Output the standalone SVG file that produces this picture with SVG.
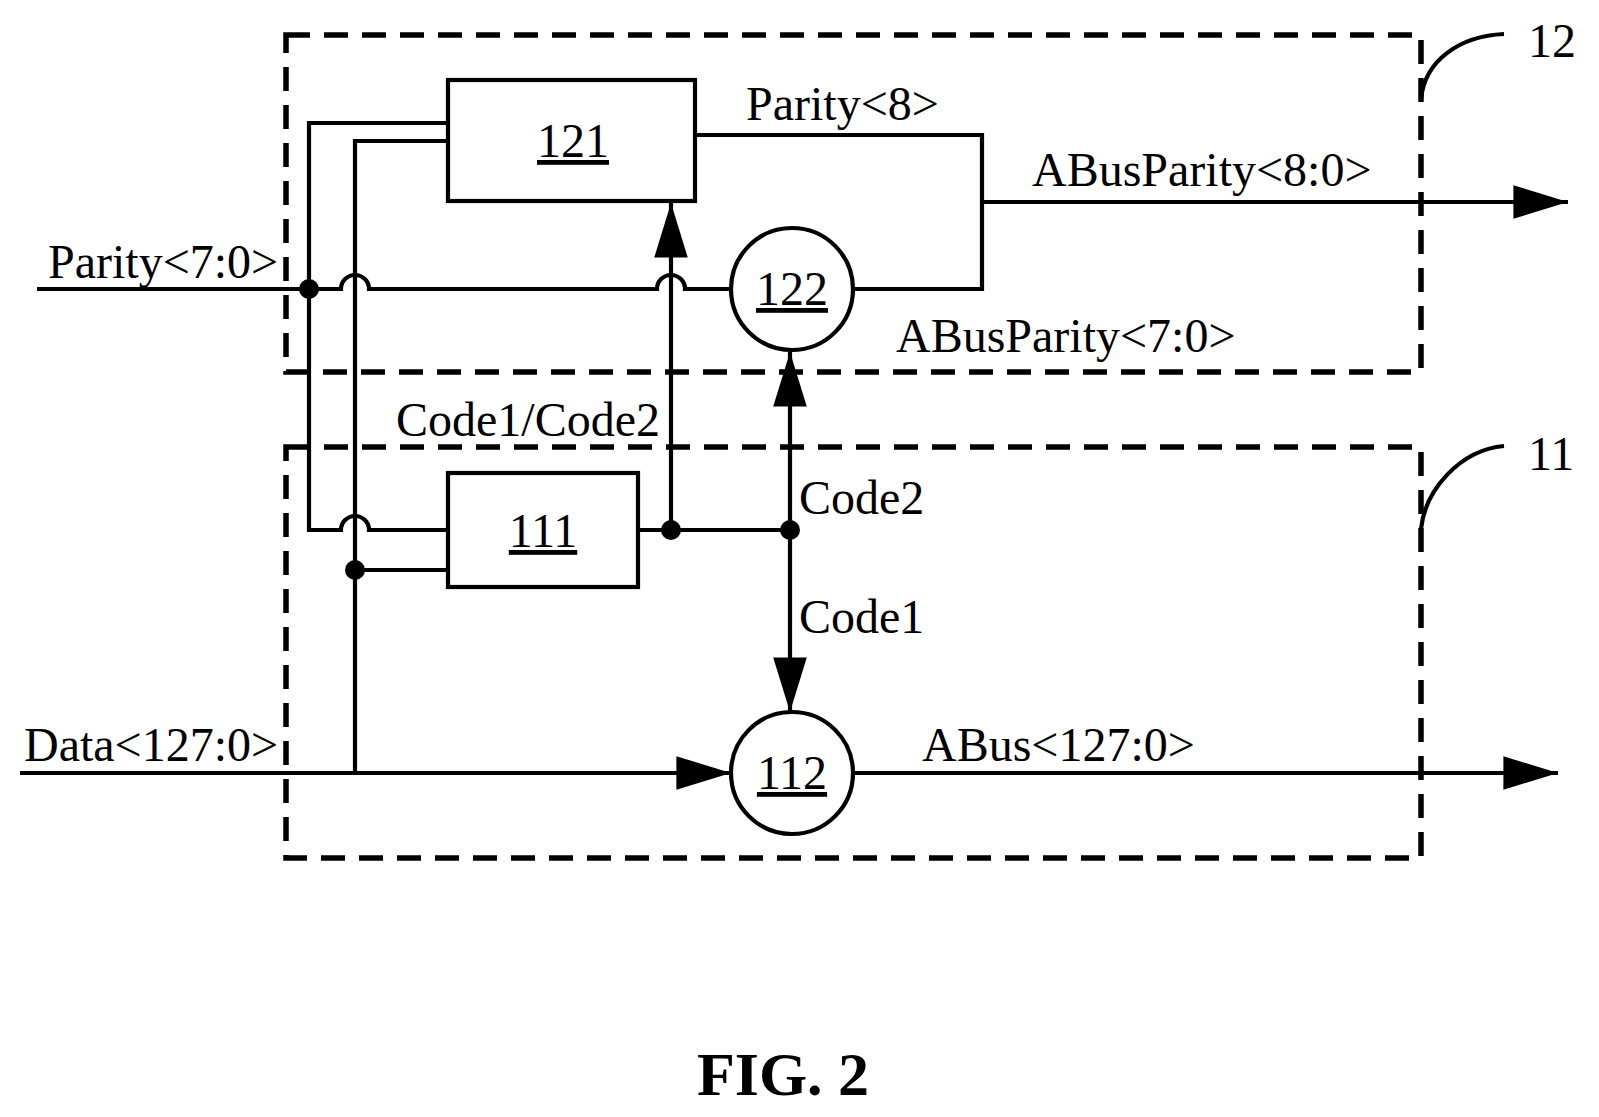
<svg xmlns="http://www.w3.org/2000/svg" width="1599" height="1117" viewBox="0 0 1599 1117">
<style>
text{font-family:"Liberation Serif","Times New Roman",serif;font-size:48px;fill:#000}
.n{text-decoration:underline}
.w{fill:none;stroke:#000;stroke-width:4.2}
.d{fill:none;stroke:#000;stroke-width:5.5;stroke-dasharray:24 14}
</style>
<defs><marker id="a" markerWidth="13" markerHeight="8" refX="13" refY="4" orient="auto" markerUnits="strokeWidth"><path d="M0,0L13,4L0,8z" fill="#000"/></marker></defs>
<rect width="1599" height="1117" fill="#fff"/>
<g id="box12"><rect class="d" x="286" y="35" width="1135" height="337"/><path class="w" d="M1421,99C1425,60 1460,36 1504,34"/><text x="1528" y="57">12</text></g>
<g id="box11"><rect class="d" x="286" y="447" width="1135" height="411"/><path class="w" d="M1421,529C1425,490 1460,450 1504,446"/><text x="1528" y="470">11</text></g>
<g id="n121"><rect class="w" x="448" y="80" width="247" height="121"/><text class="n" x="573" y="157" text-anchor="middle">121</text></g>
<g id="n111"><rect class="w" x="448" y="473" width="190" height="114"/><text class="n" x="543" y="547" text-anchor="middle">111</text></g>
<g id="n122"><circle class="w" cx="792" cy="289" r="61"/><text class="n" x="792" y="305" text-anchor="middle">122</text></g>
<g id="n112"><circle class="w" cx="792" cy="773" r="61"/><text class="n" x="792" y="789" text-anchor="middle">112</text></g>
<g id="connectors">
<path class="w" d="M695,135H982V289H853M982,202H1568" marker-end="url(#a)"/>
<path class="w" d="M37,289H341A14,14 0 0 1 369,289H657A14,14 0 0 1 685,289H731"/>
<path class="w" d="M448,123H309V530H341A14,14 0 0 1 369,530H448"/>
<path class="w" d="M448,141H355V773"/>
<path class="w" d="M355,570H448"/>
<path class="w" d="M20,773H731" marker-end="url(#a)"/>
<path class="w" d="M638,530H790"/>
<path class="w" d="M671,530V203" marker-end="url(#a)"/>
<path class="w" d="M790,530V352" marker-end="url(#a)"/>
<path class="w" d="M790,530V712" marker-end="url(#a)"/>
<path class="w" d="M853,773H1558" marker-end="url(#a)"/>
<circle cx="309" cy="289" r="10"/><circle cx="355" cy="570" r="10"/><circle cx="671" cy="530" r="10"/><circle cx="790" cy="530" r="10"/>
</g>
<text x="48" y="278">Parity&lt;7:0&gt;</text>
<text x="746" y="120">Parity&lt;8&gt;</text>
<text x="1032" y="186">ABusParity&lt;8:0&gt;</text>
<text x="896" y="352">ABusParity&lt;7:0&gt;</text>
<text x="396" y="436">Code1/Code2</text>
<text x="799" y="514">Code2</text>
<text x="799" y="633">Code1</text>
<text x="24" y="761">Data&lt;127:0&gt;</text>
<text x="922" y="761">ABus&lt;127:0&gt;</text>
<text x="783" y="1095" text-anchor="middle" style="font-weight:bold;font-size:62px">FIG. 2</text>
</svg>
